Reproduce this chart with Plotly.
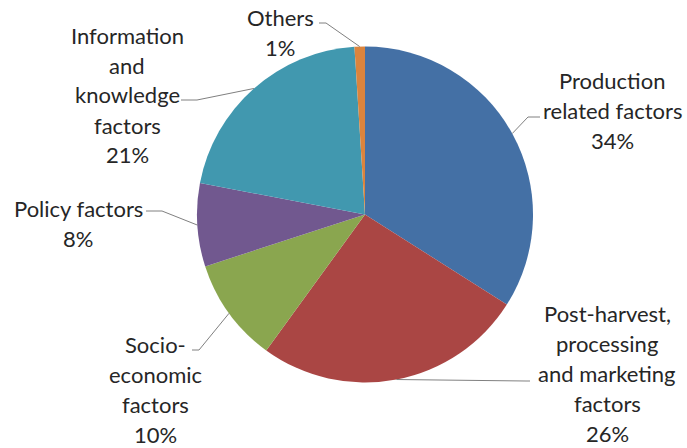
import math
import plotly.graph_objects as go

W, H = 687, 448

categories = ["Production<br>related factors", "Post-harvest,<br>processing<br>and marketing<br>factors",
              "Socio-<br>economic<br>factors", "Policy factors", "Information<br>and<br>knowledge<br>factors", "Others"]
values = [34, 26, 10, 8, 21, 1]
colors = ["#4470A5", "#AA4644", "#8AA64F", "#71588F", "#4198AF", "#DB843D"]

# pie geometry (pixels)
CX, CY, R = 365, 214.5, 168

# label layout: text centre x, first-line y, leader start, elbow (pixels)
label_layout = [
    dict(tx=612, ty=80, start=(540, 117), elbow=(528, 117)),
    dict(tx=607, ty=313, start=(530, 381), elbow=(526, 381)),
    dict(tx=155, ty=344, start=(192, 350), elbow=(199, 350)),
    dict(tx=78, ty=208, start=(146, 211), elbow=(162, 211)),
    dict(tx=127, ty=35, start=(181, 100), elbow=(197, 100)),
    dict(tx=280, ty=18, start=(319, 23), elbow=(326, 23)),
]
LINE_H = 30
FONT = dict(family="Lato", size=22, color="#262626")


def px(x):
    return x / W


def py(y):
    return 1 - y / H


fig = go.Figure(go.Pie(
    labels=[c.replace("<br>", " ") for c in categories], values=values, sort=False,
    direction="clockwise", rotation=0, textinfo="none", hoverinfo="label+percent",
    marker=dict(colors=colors, line=dict(width=0)),
    domain=dict(x=[px(CX - R), px(CX + R)], y=[py(CY + R), py(CY - R)]),
    showlegend=False,
))

total = sum(values)
cum = 0
annotations = []
shapes = []
for cat, v, lay in zip(categories, values, label_layout):
    mid = (cum + v / 2) / total * 2 * math.pi
    cum += v
    ex = CX + R * math.sin(mid)
    ey = CY - R * math.cos(mid)
    (sx, sy), (bx, by) = lay["start"], lay["elbow"]
    shapes.append(dict(type="path", xref="paper", yref="paper",
                       path=f"M {px(sx)} {py(sy)} L {px(bx)} {py(by)} L {px(ex)} {py(ey)}",
                       line=dict(color="#808080", width=1)))
    pct = round(v / total * 100)
    lines = cat.split("<br>") + [f"{pct}%"]
    for i, ln in enumerate(lines):
        annotations.append(dict(x=px(lay["tx"]), y=py(lay["ty"] + i * LINE_H), xref="paper", yref="paper",
                                text=ln, showarrow=False, xanchor="center", yanchor="middle",
                                borderpad=0, font=FONT))

fig.update_layout(width=W, height=H, margin=dict(l=0, r=0, t=0, b=0),
                  paper_bgcolor="white", plot_bgcolor="white",
                  annotations=annotations, shapes=shapes)
fig.write_html("out.html")
